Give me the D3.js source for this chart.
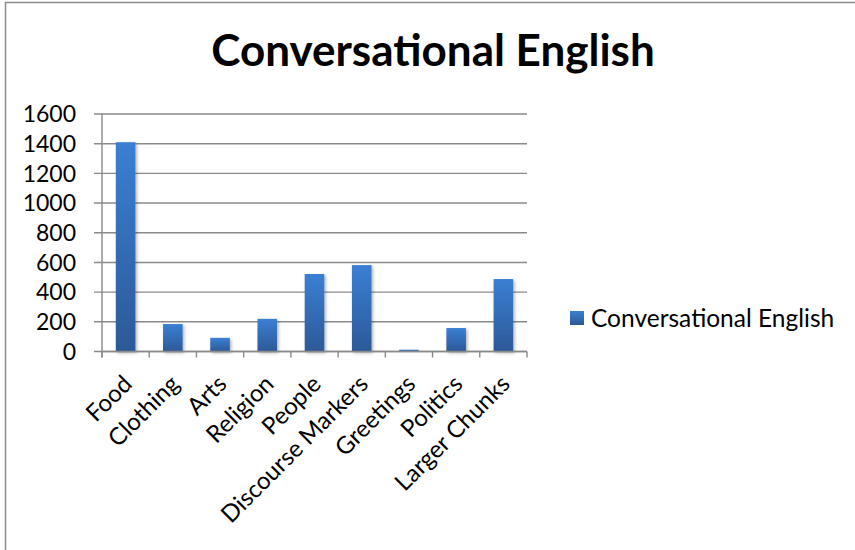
<!DOCTYPE html>
<html>
<head>
<meta charset="utf-8">
<script src="https://cdn.jsdelivr.net/npm/d3@7"></script>
<style>
  html, body { margin: 0; padding: 0; background: #fff; }
  svg { display: block; font-family: Lato, "Open Sans", sans-serif; }
</style>
</head>
<body>
<svg id="chart" width="855" height="550"></svg>
<script>
// Word counts per topic
const categories = ["Food", "Clothing", "Arts", "Religion", "People",
  "Discourse Markers", "Greetings", "Politics", "Larger Chunks"];
const values = [1410, 185, 92, 220, 522, 582, 12, 158, 488];
const yTicks = [0, 200, 400, 600, 800, 1000, 1200, 1400, 1600];
const seriesName = "Conversational English";
const chartTitle = "Conversational English";

const svg = d3.select("#chart");

// Outer frame
svg.append("rect")
  .attr("x", 5.5).attr("y", 2.5)
  .attr("width", 900).attr("height", 600)
  .attr("fill", "none").attr("stroke", "#8c8c8c").attr("stroke-width", 1.5);

const plot = { left: 102, right: 527, top: 114, bottom: 351.5 };

const x = d3.scaleBand()
  .domain(categories)
  .range([plot.left, plot.right])
  .paddingInner(0.585)
  .paddingOuter(0.2925);

const y = d3.scaleLinear()
  .domain([0, 1600])
  .range([plot.bottom, plot.top]);

// Bar gradient and soft shadow
const defs = svg.append("defs");
const grad = defs.append("linearGradient")
  .attr("id", "barGrad").attr("x1", 0).attr("y1", 0).attr("x2", 0).attr("y2", 1);
grad.append("stop").attr("offset", "0%").attr("stop-color", "#3b7fd3");
grad.append("stop").attr("offset", "100%").attr("stop-color", "#2c5997");

const shadow = defs.append("filter").attr("id", "barShadow")
  .attr("x", "-50%").attr("y", "-10%").attr("width", "200%").attr("height", "130%");
shadow.append("feDropShadow")
  .attr("dx", 1.5).attr("dy", 1.5).attr("stdDeviation", 1.6)
  .attr("flood-color", "#000").attr("flood-opacity", 0.3);

// Horizontal gridlines
svg.append("g")
  .selectAll("line")
  .data(yTicks)
  .join("line")
  .attr("x1", plot.left - 8).attr("x2", plot.right)
  .attr("y1", d => y(d)).attr("y2", d => y(d))
  .attr("stroke", "#8a8a8a").attr("stroke-width", 1.4);

// Y axis line
svg.append("line")
  .attr("x1", plot.left).attr("x2", plot.left)
  .attr("y1", plot.top).attr("y2", plot.bottom + 6)
  .attr("stroke", "#8a8a8a").attr("stroke-width", 1.4);

// Y tick labels
svg.append("g")
  .selectAll("text")
  .data(yTicks)
  .join("text")
  .attr("x", 76).attr("y", d => y(d))
  .attr("dy", "0.36em")
  .attr("text-anchor", "end")
  .attr("font-size", 23)
  .attr("fill", "#000")
  .text(d => d);

// Bars
svg.append("g")
  .selectAll("rect")
  .data(categories.map((c, i) => ({ c, v: values[i] })))
  .join("rect")
  .attr("x", d => x(d.c))
  .attr("y", d => y(d.v))
  .attr("width", x.bandwidth())
  .attr("height", d => y(0) - y(d.v))
  .attr("fill", "url(#barGrad)")
  .attr("filter", "url(#barShadow)");

// X axis line with category boundary ticks
svg.append("line")
  .attr("x1", plot.left).attr("x2", plot.right)
  .attr("y1", plot.bottom).attr("y2", plot.bottom)
  .attr("stroke", "#8a8a8a").attr("stroke-width", 1.4);

const step = x.step();
svg.append("g")
  .selectAll("line")
  .data(d3.range(categories.length + 1))
  .join("line")
  .attr("x1", i => plot.left + i * step).attr("x2", i => plot.left + i * step)
  .attr("y1", plot.bottom).attr("y2", plot.bottom + 6)
  .attr("stroke", "#8a8a8a").attr("stroke-width", 1.4);

// Rotated category labels
svg.append("g")
  .selectAll("text")
  .data(categories)
  .join("text")
  .attr("transform", d => `translate(${x(d) + x.bandwidth() / 2 + 8},${plot.bottom + 34}) rotate(-45)`)
  .attr("text-anchor", "end")
  .attr("font-size", 24)
  .attr("fill", "#000")
  .text(d => d);

// Title
svg.append("text")
  .attr("x", 433).attr("y", 66)
  .attr("text-anchor", "middle")
  .attr("font-size", 44)
  .attr("font-weight", "bold")
  .attr("fill", "#000")
  .text(chartTitle);

// Legend
const legend = svg.append("g").attr("transform", "translate(570,318)");
legend.append("rect")
  .attr("x", 0).attr("y", -7).attr("width", 14).attr("height", 14)
  .attr("fill", "url(#barGrad)");
legend.append("text")
  .attr("x", 21).attr("y", 0).attr("dy", "0.36em")
  .attr("font-size", 24.5)
  .attr("fill", "#000")
  .text(seriesName);
</script>
</body>
</html>
